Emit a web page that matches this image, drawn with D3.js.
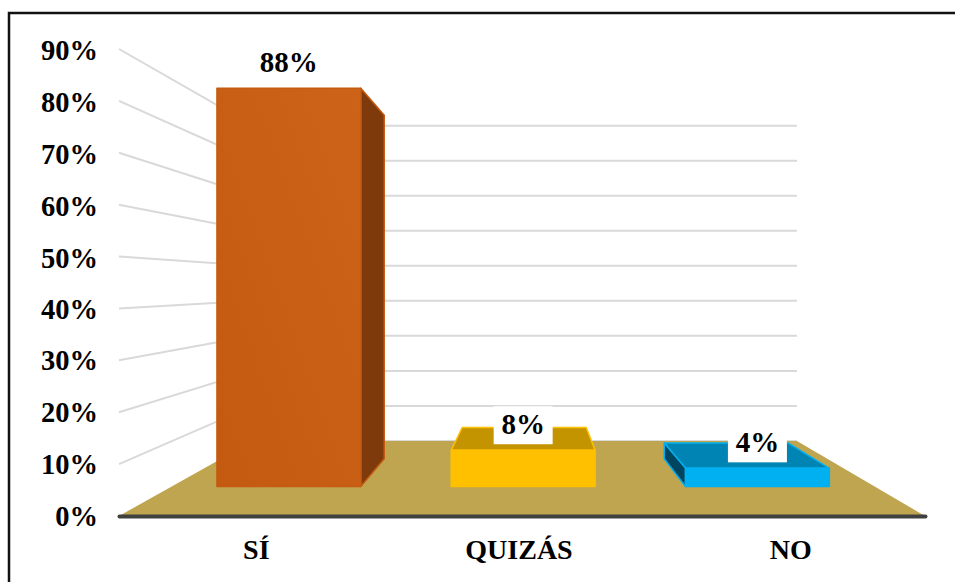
<!DOCTYPE html>
<meta charset="utf-8">
<title>SI QUIZAS NO</title>
<script src="https://d3js.org/d3.v7.min.js"></script>
<style>
  html, body { margin: 0; background: #fff; }
  svg { display: block; }
  text { font-family: "Liberation Serif", serif; font-weight: bold; fill: #000; }
</style>
<body>
<script>
var categories = ["SÍ", "QUIZÁS", "NO"];
var values = [88, 8, 4];
var valueLabels = ["88%", "8%", "4%"];
var gridTicks = [0, 10, 20, 30, 40, 50, 60, 70, 80, 90];

var frontColors = ["#C55A11", "#FFC000", "#00B0F0"];
var topColors = ["#843C0C", "#C49300", "#0084B4"];
var sideColors = ["#7F3A0B", "#C49300", "#00455F"];

var width = 955, height = 582;

var svg = d3.select("body").append("svg")
    .attr("width", width)
    .attr("height", height);

var x = d3.scaleBand()
    .domain(categories)
    .range([119, 925])
    .paddingInner(0.386)
    .paddingOuter(0.193);

var y = d3.scaleLinear()
    .domain([0, 90])
    .range([516, 49]);

// the chart is a real perspective view, everything shrinks toward this point
var vanishX = 531, vanishY = 285;
var wallDepth = 0.675, barNear = 0.872, barFar = 0.752;

function project(px, value, depth) {
  return [vanishX + (px - vanishX) * depth, vanishY + (y(value) - vanishY) * depth];
}

var line = d3.line();

// frame, cut off by the picture on the right and bottom
svg.append("path")
    .attr("d", line([[width, 13], [9, 13], [9, height]]))
    .attr("fill", "none")
    .attr("stroke", "#111")
    .attr("stroke-width", 2.5);

// walls
var left = x.range()[0], right = x.range()[1];

var grid = gridTicks.filter(function(d) { return d > 0; });

svg.selectAll(".wall")
    .data(grid)
  .enter().append("path")
    .attr("class", "wall")
    .attr("d", function(d) { return line([project(left, d, 1), project(left, d, wallDepth)]); })
    .attr("fill", "none")
    .attr("stroke", "#D9D9D9")
    .attr("stroke-width", 2);

svg.selectAll(".back")
    .data(gridTicks)
  .enter().append("path")
    .attr("class", "back")
    .attr("d", function(d) { return line([project(left, d, wallDepth), project(right, d, wallDepth)]); })
    .attr("fill", "none")
    .attr("stroke", "#D9D9D9")
    .attr("stroke-width", 2);

// floor
svg.append("path")
    .attr("d", line([
      project(left, 0, 1), project(left, 0, wallDepth),
      project(right, 0, wallDepth), project(right, 0, 1)
    ]) + "Z")
    .attr("fill", "#BFA550");

var defs = svg.append("defs");
var grad = defs.append("linearGradient")
    .attr("id", "orange")
    .attr("x1", 0).attr("y1", 1)
    .attr("x2", 1).attr("y2", 0);
grad.append("stop").attr("offset", "0%").attr("stop-color", "#C35A10");
grad.append("stop").attr("offset", "100%").attr("stop-color", "#CC6318");

// bars
categories.forEach(function(c, i) {
  var x0 = x(c), x1 = x0 + x.bandwidth(), v = values[i];
  var face = function(points, fill) {
    svg.append("path")
        .attr("d", line(points) + "Z")
        .attr("fill", fill)
        .attr("stroke", frontColors[i])
        .attr("stroke-width", 1.5)
        .attr("stroke-linejoin", "round");
  };
  // only the faces that can be seen from the vanishing point
  if (y(v) > vanishY) {
    face([project(x0, v, barNear), project(x1, v, barNear), project(x1, v, barFar), project(x0, v, barFar)], topColors[i]);
  }
  if (x1 < vanishX) {
    face([project(x1, 0, barNear), project(x1, v, barNear), project(x1, v, barFar), project(x1, 0, barFar)], sideColors[i]);
  }
  if (x0 > vanishX) {
    face([project(x0, 0, barNear), project(x0, v, barNear), project(x0, v, barFar), project(x0, 0, barFar)], sideColors[i]);
  }
  face([project(x0, 0, barNear), project(x1, 0, barNear), project(x1, v, barNear), project(x0, v, barNear)],
      i == 0 ? "url(#orange)" : frontColors[i]);
});

// value labels on white boxes
categories.forEach(function(c, i) {
  var p = project(x(c) + x.bandwidth() / 2, values[i], barNear);
  svg.append("rect")
      .attr("x", p[0] - 29.5)
      .attr("y", p[1] - 44)
      .attr("width", 59)
      .attr("height", 38)
      .attr("fill", "#fff");
  svg.append("text")
      .attr("x", p[0])
      .attr("y", p[1] - 16)
      .attr("text-anchor", "middle")
      .attr("font-size", 29)
      .text(valueLabels[i]);
});

// axes
var xAxis = svg.append("g")
    .attr("transform", "translate(0," + y(0) + ")")
    .call(d3.axisBottom(x).tickSize(0).tickPadding(23).tickSizeOuter(0));
xAxis.select(".domain")
    .attr("stroke", "#404040")
    .attr("stroke-width", 4)
    .attr("stroke-linecap", "round");
// labels sit a little off the band centres in the original
var labelShift = [3, -3, 0];
xAxis.selectAll("text")
    .attr("font-size", 28)
    .attr("font-family", null)
    .attr("dx", function(d, i) { return labelShift[i]; });

var yAxis = svg.append("g")
    .attr("transform", "translate(119,0)")
    .call(d3.axisLeft(y)
        .tickValues(gridTicks)
        .tickSize(0)
        .tickPadding(21)
        .tickFormat(function(d) { return d + "%"; }));
yAxis.select(".domain").remove();
yAxis.selectAll("text")
    .attr("font-size", 28.5)
    .attr("font-family", null)
    .attr("transform", function(d) { return "translate(0," + (d > 40 ? 1.5 : 0.5) + ")"; });
</script>
